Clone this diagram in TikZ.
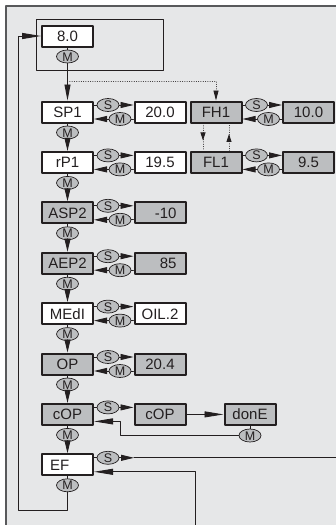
\documentclass[tikz,border=0pt]{standalone}
\usepackage{fontspec}
\setmainfont{Liberation Sans}
\usepackage{tikz}
\usetikzlibrary{arrows.meta}
\usetikzlibrary{shapes.geometric}
\usetikzlibrary{decorations.markings}
\definecolor{panel}{HTML}{E6E7E8}
\definecolor{rim}{HTML}{58595B}
\definecolor{ink}{HTML}{231F20}
\definecolor{dim}{HTML}{BCBEC0}

\begin{document}
\begin{tikzpicture}[line cap=round,line join=round,>={Triangle[length=13pt,width=6pt]},x=1.0pt,y=-1.0pt,
		wbox/.style={draw=ink,line width=2pt,fill=white,minimum width=51pt,minimum height=21pt,inner sep=0pt,text=ink,font=\fontsize{15}{15}\selectfont,text height=10.8pt,text depth=0pt},
		gbox/.style={wbox,fill=dim},
		key/.style={ellipse,draw=ink,line width=0.7pt,fill=dim,minimum width=22pt,minimum height=13pt,inner sep=0pt,text=ink,font=\fontsize{12.5}{12.5}\selectfont,text height=9pt,text depth=0pt},
		wire/.style={draw=ink,line width=0.9pt},
		lng/.style={-{Triangle[length=19pt,width=6pt]}},
		dots/.style={draw=ink,line width=0.9pt,dash pattern=on 0.1pt off 2.2pt},
		midtip/.style={postaction={decorate},decoration={markings,mark=at position 0.62 with {\arrow{Triangle[length=8pt,width=5pt]}}}}]
		\useasboundingbox (0,0) rectangle (336,525);
		\fill [panel] (6,6) rectangle (336,525);
		\draw [rim,line width=1.2pt,line cap=butt] (336,6)-- (6,6)-- (6,525);
		% start value
		\draw [wire] (36,19) rectangle (163,70);
		\node [wbox] (v80) at (67.5,36) {8.0};
		\node [key] (v80m) at (67.5,56.5) {M};
		% main column
		\node [wbox] (sp1) at (67.5,112) {SP1};
		\node [wbox] (rp1) at (67.5,162.4) {rP1};
		\node [gbox] (asp) at (67.5,212.8) {ASP2};
		\node [gbox] (aep) at (67.5,263.2) {AEP2};
		\node [wbox] (med) at (67.5,313.6) {MEdI};
		\node [gbox] (op) at (67.5,364) {OP};
		\node [gbox] (cop) at (67.5,414.4) {cOP};
		\node [wbox,text width=35pt,align=left] (ef) at (67.5,464.8) {EF};
		\node [key] (sp1d) at (67.5,132.5) {M};
		\node [key] (rp1d) at (67.5,182.9) {M};
		\node [key] (aspd) at (67.5,233.3) {M};
		\node [key] (aepd) at (67.5,283.7) {M};
		\node [key] (medd) at (67.5,334.1) {M};
		\node [key] (opd) at (67.5,384.5) {M};
		\node [key] (copd) at (67.5,434.9) {M};
		\node [key] (efd) at (67.5,485.3) {M};
		% side keys
		\node [key] (sp1s) at (108,105) {S};
		\node [key] (sp1m) at (120,119) {M};
		\node [key] (rp1s) at (108,155.4) {S};
		\node [key] (rp1m) at (120,169.4) {M};
		\node [key] (asps) at (108,205.8) {S};
		\node [key] (aspm) at (120,219.8) {M};
		\node [key] (aeps) at (108,256.2) {S};
		\node [key] (aepm) at (120,270.2) {M};
		\node [key] (meds) at (108,306.6) {S};
		\node [key] (medm) at (120,320.6) {M};
		\node [key] (ops) at (108,357) {S};
		\node [key] (opm) at (120,371) {M};
		\node [key] (cops) at (108,407.4) {S};
		\node [key] (efs) at (108,457.8) {S};
		% values
		\node [wbox] (v200) at (160,112) {20.0};
		\node [wbox] (v195) at (160,162.4) {19.5};
		\node [gbox,text width=33pt,align=right] (vm10) at (160,212.8) {-10};
		\node [gbox,text width=33pt,align=right] (v85) at (160,263.2) {85};
		\node [wbox] (voil) at (160,313.6) {OIL.2};
		\node [gbox] (v204) at (160,364) {20.4};
		\node [gbox] (vcop) at (160,414.4) {cOP};
		\node [gbox] (done) at (250,414.4) {donE};
		\node [key] (donem) at (250,435.5) {M};
		% window
		\node [gbox] (fh1) at (216,112) {FH1};
		\node [gbox] (fl1) at (216,162.4) {FL1};
		\node [key] (fh1s) at (256.5,105) {S};
		\node [key] (fh1m) at (268.5,119) {M};
		\node [key] (fl1s) at (256.5,155.4) {S};
		\node [key] (fl1m) at (268.5,169.4) {M};
		\node [gbox] (v100) at (308.5,112) {10.0};
		\node [gbox] (v95) at (308.5,162.4) {9.5};
		\coordinate (tap) at (67.5,81);
		\coordinate (bend) at (120,435.5);
		\coordinate (eft) at (134,457.8);
		\coordinate (efr) at (336,457.8);
		\coordinate (efb) at (195,525);
		\coordinate (lft) at (18,510);
		% M steps down
		\draw [wire] (v80)-- (v80m);
		\draw [wire,-{Triangle[length=16pt,width=6pt]}] (v80m)-- (sp1);
		\draw [wire] (sp1)-- (sp1d);
		\draw [wire,->] (sp1d)-- (rp1);
		\draw [wire] (rp1)-- (rp1d);
		\draw [wire,->] (rp1d)-- (asp);
		\draw [wire] (asp)-- (aspd);
		\draw [wire,->] (aspd)-- (aep);
		\draw [wire] (aep)-- (aepd);
		\draw [wire,->] (aepd)-- (med);
		\draw [wire] (med)-- (medd);
		\draw [wire,->] (medd)-- (op);
		\draw [wire] (op)-- (opd);
		\draw [wire,->] (opd)-- (cop);
		\draw [wire] (cop)-- (copd);
		\draw [wire,->] (copd)-- (ef);
		\draw [wire] (ef)-- (efd);
		\draw [wire,lng] (efd)|- (lft)|- (v80);
		% S and M sideways
		\draw [wire] (sp1.east |- sp1s)-- (sp1s);
		\draw [wire,->] (sp1s)-- (sp1s -| v200.west);
		\draw [wire] (v200.west |- sp1m)-- (sp1m);
		\draw [wire,->] (sp1m)-- (sp1m -| sp1.east);
		\draw [wire] (rp1.east |- rp1s)-- (rp1s);
		\draw [wire,->] (rp1s)-- (rp1s -| v195.west);
		\draw [wire] (v195.west |- rp1m)-- (rp1m);
		\draw [wire,->] (rp1m)-- (rp1m -| rp1.east);
		\draw [wire] (asp.east |- asps)-- (asps);
		\draw [wire,->] (asps)-- (asps -| vm10.west);
		\draw [wire] (vm10.west |- aspm)-- (aspm);
		\draw [wire,->] (aspm)-- (aspm -| asp.east);
		\draw [wire] (aep.east |- aeps)-- (aeps);
		\draw [wire,->] (aeps)-- (aeps -| v85.west);
		\draw [wire] (v85.west |- aepm)-- (aepm);
		\draw [wire,->] (aepm)-- (aepm -| aep.east);
		\draw [wire] (med.east |- meds)-- (meds);
		\draw [wire,->] (meds)-- (meds -| voil.west);
		\draw [wire] (voil.west |- medm)-- (medm);
		\draw [wire,->] (medm)-- (medm -| med.east);
		\draw [wire] (op.east |- ops)-- (ops);
		\draw [wire,->] (ops)-- (ops -| v204.west);
		\draw [wire] (v204.west |- opm)-- (opm);
		\draw [wire,->] (opm)-- (opm -| op.east);
		\draw [wire] (fh1.east |- fh1s)-- (fh1s);
		\draw [wire,->] (fh1s)-- (fh1s -| v100.west);
		\draw [wire] (v100.west |- fh1m)-- (fh1m);
		\draw [wire,->] (fh1m)-- (fh1m -| fh1.east);
		\draw [wire] (fl1.east |- fl1s)-- (fl1s);
		\draw [wire,->] (fl1s)-- (fl1s -| v95.west);
		\draw [wire] (v95.west |- fl1m)-- (fl1m);
		\draw [wire,->] (fl1m)-- (fl1m -| fl1.east);
		% window hysteresis
		\draw [dots,-{Triangle[length=10pt,width=5pt]}] (tap)-| (fh1);
		\draw [dots,midtip] ([xshift=-13pt]fh1.south)-- ([xshift=-13pt]fl1.north);
		\draw [dots,midtip] ([xshift=13pt]fl1.north)-- ([xshift=13pt]fh1.south);
		% copy
		\draw [wire] (cop.east |- cops)-- (cops);
		\draw [wire,->] (cops)-- (cops -| vcop.west);
		\draw [wire,lng] (vcop)-- (done);
		\draw [wire] (done)-- (donem);
		\draw [wire,lng] (donem)-- (bend)|- ([yshift=-7pt]cop.east);
		% EF
		\draw [wire] (ef.east |- efs)-- (efs);
		\draw [wire,->] (efs)-- (eft);
		\draw [wire] (eft)-- (efr);
		\draw [wire,lng] (efb)|- ([yshift=-7pt]ef.east);
\end{tikzpicture}
\end{document}
